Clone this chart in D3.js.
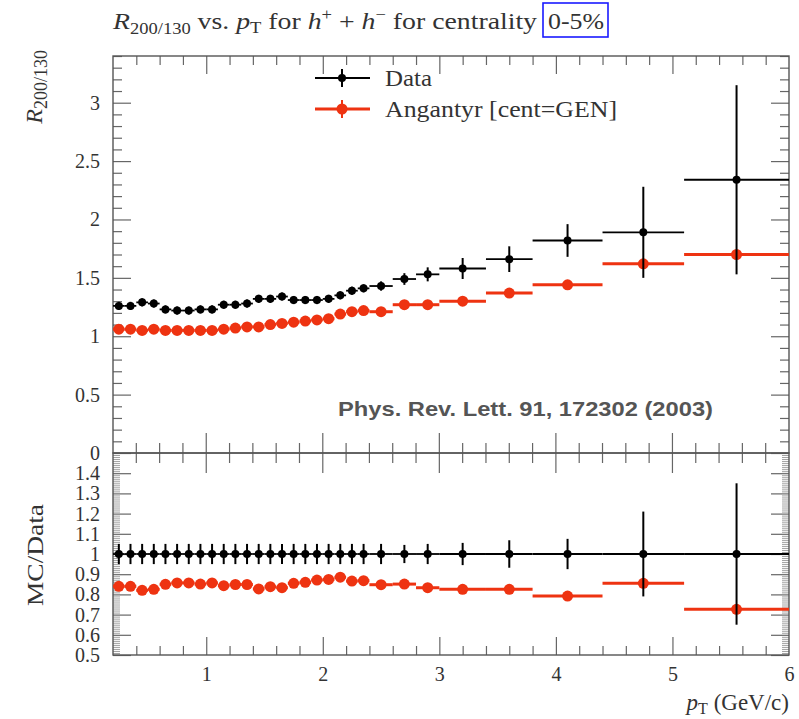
<!DOCTYPE html>
<html lang="en">
<head>
<meta charset="UTF-8">
<title>R200/130 vs pT</title>
<script src="https://cdn.jsdelivr.net/npm/d3@7"></script>
<style>
  body { margin: 0; background: #fff; }
  svg text { font-family: "Liberation Serif", "DejaVu Serif", serif; fill: #333; }
</style>
</head>
<body>
<div id="output"></div>
<script>

// bin edges in pT (GeV/c)
var binEdges = [0.2, 0.3, 0.4, 0.5, 0.6, 0.7, 0.8, 0.9, 1.0, 1.1, 1.2, 1.3, 1.4, 1.5, 1.6, 1.7,
                1.8, 1.9, 2.0, 2.1, 2.2, 2.3, 2.4, 2.6, 2.8, 3.0, 3.4, 3.8, 4.4, 5.1, 6.0];

// STAR data
var dataVal = [1.26, 1.26, 1.29, 1.28, 1.23, 1.22, 1.22, 1.23, 1.23, 1.27, 1.27, 1.28, 1.32, 1.32, 1.34,
               1.31, 1.31, 1.31, 1.32, 1.35, 1.39, 1.41, 1.43, 1.49, 1.53, 1.58, 1.66, 1.82, 1.89, 2.34];
var dataErr = [0.035, 0.035, 0.035, 0.035, 0.035, 0.035, 0.035, 0.035, 0.035, 0.035, 0.035, 0.035, 0.035, 0.035, 0.035,
               0.035, 0.035, 0.035, 0.035, 0.035, 0.035, 0.035, 0.04, 0.05, 0.06, 0.09, 0.11, 0.14, 0.39, 0.81];

// Angantyr prediction
var mcVal = [1.06, 1.06, 1.05, 1.06, 1.05, 1.05, 1.05, 1.05, 1.05, 1.06, 1.07, 1.08, 1.08, 1.10, 1.11,
             1.12, 1.13, 1.14, 1.15, 1.19, 1.21, 1.22, 1.21, 1.27, 1.27, 1.30, 1.37, 1.44, 1.62, 1.70];

// ratio panel
var ratioVal = [0.84, 0.84, 0.82, 0.825, 0.85, 0.857, 0.857, 0.851, 0.857, 0.843, 0.849, 0.849, 0.827, 0.838, 0.833,
                0.855, 0.86, 0.871, 0.874, 0.885, 0.866, 0.868, 0.848, 0.851, 0.833, 0.825, 0.825, 0.792, 0.855, 0.726];
var ratioErr = [0.05, 0.05, 0.05, 0.05, 0.05, 0.05, 0.05, 0.05, 0.05, 0.05, 0.05, 0.05, 0.05, 0.05, 0.05,
                0.05, 0.05, 0.05, 0.05, 0.05, 0.05, 0.05, 0.05, 0.045, 0.05, 0.055, 0.068, 0.075, 0.21, 0.35];

var yTopTicks = [0, 0.5, 1, 1.5, 2, 2.5, 3];
var yBotTicks = [0.5, 0.6, 0.7, 0.8, 0.9, 1, 1.1, 1.2, 1.3, 1.4];
var xTicks = [1, 2, 3, 4, 5, 6];

var RED = "#ee3311";

var w = 799, h = 719;
var padL = 113, padR = 789, padT = 56, padM = 453, padB = 655;

var bins = dataVal.map(function(v, i) {
    return {
        lo: binEdges[i], hi: binEdges[i + 1], x: (binEdges[i] + binEdges[i + 1]) / 2,
        data: v, dataErr: dataErr[i], mc: mcVal[i], ratio: ratioVal[i], ratioErr: ratioErr[i]
    };
});

var svg = d3.select("#output").append("svg")
        .attr("width", w).attr("height", h);

var x = d3.scaleLinear().domain([0.2, 6]).range([padL, padR]);
var yTop = d3.scaleLinear().domain([0, 3.4]).range([padM, padT]);
var yBot = d3.scaleLinear().domain([0.5, 1.5]).range([padB, padM]);

function minorRange(a, b, step, majors) {
    var out = [], n = Math.round((b - a) / step), i, v;
    for (i = 0; i <= n; i++) {
        v = +(a + i * step).toFixed(4);
        if (majors.indexOf(v) < 0) out.push(v);
    }
    return out;
}

function styleAxis(g) {
    g.select(".domain").remove();
    g.selectAll("line").attr("stroke", "#666").attr("stroke-width", 1.2);
    g.selectAll("text").attr("font-size", 20).attr("fill", "#333")
        .style("font-family", '"Liberation Serif", serif');
}

var fmt = d3.format("~g");

// ---- y axes upper panel
svg.append("g").attr("transform", "translate(" + padL + ",0)")
    .call(d3.axisLeft(yTop).tickValues(yTopTicks).tickSize(-18).tickPadding(13).tickFormat(fmt))
    .call(styleAxis);
svg.append("g").attr("transform", "translate(" + padL + ",0)")
    .call(d3.axisLeft(yTop).tickValues(minorRange(0, 3.4, 0.1, yTopTicks)).tickSize(-9).tickFormat(""))
    .call(styleAxis);
svg.append("g").attr("transform", "translate(" + padR + ",0)")
    .call(d3.axisRight(yTop).tickValues(yTopTicks).tickSize(-18).tickFormat(""))
    .call(styleAxis);
svg.append("g").attr("transform", "translate(" + padR + ",0)")
    .call(d3.axisRight(yTop).tickValues(minorRange(0, 3.4, 0.1, yTopTicks)).tickSize(-9).tickFormat(""))
    .call(styleAxis);

// ---- y axes lower panel
var botMinor = minorRange(0.5, 1.5, 0.01, yBotTicks.concat([1.5]));
svg.append("g").attr("transform", "translate(" + padL + ",0)")
    .call(d3.axisLeft(yBot).tickValues(yBotTicks).tickSize(-18).tickPadding(13).tickFormat(fmt))
    .call(styleAxis);
svg.append("g").attr("transform", "translate(" + padL + ",0)")
    .call(d3.axisLeft(yBot).tickValues(botMinor).tickSize(-7).tickFormat(""))
    .call(styleAxis)
    .selectAll("line").attr("stroke-width", 0.8).attr("stroke", "#888");
svg.append("g").attr("transform", "translate(" + padR + ",0)")
    .call(d3.axisRight(yBot).tickValues(yBotTicks).tickSize(-18).tickFormat(""))
    .call(styleAxis);
svg.append("g").attr("transform", "translate(" + padR + ",0)")
    .call(d3.axisRight(yBot).tickValues(botMinor).tickSize(-7).tickFormat(""))
    .call(styleAxis)
    .selectAll("line").attr("stroke-width", 0.8).attr("stroke", "#888");

// ---- x axes
var xMajorIn = xTicks.filter(function(v) { return v < 6; });
var xMinor = minorRange(0.2, 6, 0.2, xTicks).filter(function(v) { return v > 0.2 && v < 6; });

svg.append("g").attr("transform", "translate(0," + padT + ")")
    .call(d3.axisBottom(x).tickValues(xMajorIn).tickSize(18).tickFormat(""))
    .call(styleAxis);
svg.append("g").attr("transform", "translate(0," + padT + ")")
    .call(d3.axisBottom(x).tickValues(xMinor).tickSize(9).tickFormat(""))
    .call(styleAxis);

// ticks crossing the shared border
var midTicks = svg.append("g");
midTicks.selectAll("line.major").data(xMajorIn).enter().append("line")
    .attr("x1", function(d) { return x(d); }).attr("x2", function(d) { return x(d); })
    .attr("y1", padM - 20).attr("y2", padM + 20)
    .attr("stroke", "#666").attr("stroke-width", 1.2);
midTicks.selectAll("line.minor").data(xMinor).enter().append("line")
    .attr("x1", function(d) { return x(d); }).attr("x2", function(d) { return x(d); })
    .attr("y1", padM - 10).attr("y2", padM + 10)
    .attr("stroke", "#666").attr("stroke-width", 1.2);

svg.append("g").attr("transform", "translate(0," + padB + ")")
    .call(d3.axisTop(x).tickValues(xMajorIn).tickSize(18).tickFormat(""))
    .call(styleAxis);
svg.append("g").attr("transform", "translate(0," + padB + ")")
    .call(d3.axisTop(x).tickValues(xMinor).tickSize(9).tickFormat(""))
    .call(styleAxis);
svg.append("g").attr("transform", "translate(0," + padB + ")")
    .call(d3.axisBottom(x).tickValues(xTicks).tickSize(0).tickPadding(12).tickFormat(fmt))
    .call(styleAxis);

// frames
svg.append("rect").attr("x", padL).attr("y", padT).attr("width", padR - padL).attr("height", padM - padT)
    .attr("fill", "none").attr("stroke", "#555").attr("stroke-width", 1.4);
svg.append("rect").attr("x", padL).attr("y", padM).attr("width", padR - padL).attr("height", padB - padM)
    .attr("fill", "none").attr("stroke", "#555").attr("stroke-width", 1.4);

// ---- upper panel marks
var upper = svg.append("g");

// MC
upper.selectAll("line.mcx").data(bins).enter().append("line")
    .attr("x1", function(d) { return x(d.lo); }).attr("x2", function(d) { return x(d.hi); })
    .attr("y1", function(d) { return yTop(d.mc); }).attr("y2", function(d) { return yTop(d.mc); })
    .attr("stroke", RED).attr("stroke-width", 3);
upper.selectAll("circle.mc").data(bins).enter().append("circle")
    .attr("cx", function(d) { return x(d.x); }).attr("cy", function(d) { return yTop(d.mc); })
    .attr("r", 5.5).attr("fill", RED);

// data
upper.selectAll("line.dx").data(bins).enter().append("line")
    .attr("x1", function(d) { return x(d.lo); }).attr("x2", function(d) { return x(d.hi); })
    .attr("y1", function(d) { return yTop(d.data); }).attr("y2", function(d) { return yTop(d.data); })
    .attr("stroke", "#000").attr("stroke-width", 1.8);
upper.selectAll("line.dy").data(bins).enter().append("line")
    .attr("x1", function(d) { return x(d.x); }).attr("x2", function(d) { return x(d.x); })
    .attr("y1", function(d) { return yTop(d.data - d.dataErr); })
    .attr("y2", function(d) { return yTop(d.data + d.dataErr); })
    .attr("stroke", "#000").attr("stroke-width", 2);
upper.selectAll("circle.d").data(bins).enter().append("circle")
    .attr("cx", function(d) { return x(d.x); }).attr("cy", function(d) { return yTop(d.data); })
    .attr("r", 4).attr("fill", "#000");

// ---- lower panel marks
var lower = svg.append("g");
lower.selectAll("line.rx").data(bins).enter().append("line")
    .attr("x1", function(d) { return x(d.lo); }).attr("x2", function(d) { return x(d.hi); })
    .attr("y1", function(d) { return yBot(d.ratio); }).attr("y2", function(d) { return yBot(d.ratio); })
    .attr("stroke", RED).attr("stroke-width", 3);
lower.selectAll("circle.r").data(bins).enter().append("circle")
    .attr("cx", function(d) { return x(d.x); }).attr("cy", function(d) { return yBot(d.ratio); })
    .attr("r", 5.5).attr("fill", RED);

lower.selectAll("line.ux").data(bins).enter().append("line")
    .attr("x1", function(d) { return x(d.lo); }).attr("x2", function(d) { return x(d.hi); })
    .attr("y1", yBot(1)).attr("y2", yBot(1))
    .attr("stroke", "#000").attr("stroke-width", 1.8);
lower.selectAll("line.uy").data(bins).enter().append("line")
    .attr("x1", function(d) { return x(d.x); }).attr("x2", function(d) { return x(d.x); })
    .attr("y1", function(d) { return yBot(1 - d.ratioErr); })
    .attr("y2", function(d) { return yBot(1 + d.ratioErr); })
    .attr("stroke", "#000").attr("stroke-width", 2);
lower.selectAll("circle.u").data(bins).enter().append("circle")
    .attr("cx", function(d) { return x(d.x); }).attr("cy", yBot(1))
    .attr("r", 4).attr("fill", "#000");

// ---- legend
var legend = svg.append("g");
var legItems = [{ label: "Data", color: "#000", y: 78, r: 4, sw: 1.8 },
                { label: "Angantyr [cent=GEN]", color: RED, y: 109, r: 5.5, sw: 3 }];
legItems.forEach(function(it) {
    legend.append("line").attr("x1", 315).attr("x2", 370).attr("y1", it.y).attr("y2", it.y)
        .attr("stroke", it.color).attr("stroke-width", it.sw);
    legend.append("line").attr("x1", 342).attr("x2", 342).attr("y1", it.y - 9).attr("y2", it.y + 9)
        .attr("stroke", it.color).attr("stroke-width", 2);
    legend.append("circle").attr("cx", 342).attr("cy", it.y).attr("r", it.r).attr("fill", it.color);
    legend.append("text").attr("x", 385).attr("y", it.y + 8).attr("font-size", 23)
        .attr("textLength", it.label === "Data" ? 47 : 232).attr("lengthAdjust", "spacingAndGlyphs")
        .text(it.label);
});

// reference
svg.append("text").attr("x", 338).attr("y", 416)
    .style("font-family", '"Liberation Sans", Arial, sans-serif')
    .attr("font-weight", "bold").attr("font-size", 21).style("fill", "#555")
    .attr("textLength", 375).attr("lengthAdjust", "spacingAndGlyphs")
    .text("Phys. Rev. Lett. 91, 172302 (2003)");

// ---- title
var title = svg.append("text").attr("x", 113).attr("y", 29).attr("font-size", 24)
    .attr("textLength", 424).attr("lengthAdjust", "spacingAndGlyphs");
title.append("tspan").attr("font-style", "italic").text("R");
title.append("tspan").attr("font-size", 16).attr("dy", 5).text("200/130");
title.append("tspan").attr("dy", -5).text(" vs. ");
title.append("tspan").attr("font-style", "italic").text("p");
title.append("tspan").attr("font-size", 16).attr("dy", 4).text("T");
title.append("tspan").attr("dy", -4).text(" for ");
title.append("tspan").attr("font-style", "italic").text("h");
title.append("tspan").attr("font-size", 16).attr("dy", -9).text("+");
title.append("tspan").attr("dy", 9).text(" + ");
title.append("tspan").attr("font-style", "italic").text("h");
title.append("tspan").attr("font-size", 16).attr("dy", -9).text("\u2212");
title.append("tspan").attr("dy", 9).text(" for centrality");
svg.append("text").attr("x", 548).attr("y", 29).attr("font-size", 24)
    .attr("textLength", 56).attr("lengthAdjust", "spacingAndGlyphs").text("0-5%");
svg.append("rect").attr("x", 543).attr("y", 3).attr("width", 65).attr("height", 34)
    .attr("fill", "none").attr("stroke", "#1a1aff").attr("stroke-width", 1.6);

// ---- axis titles
var yl = svg.append("text").attr("transform", "translate(42,50) rotate(-90)")
    .attr("text-anchor", "end").attr("font-size", 24);
yl.append("tspan").attr("font-style", "italic").text("R");
yl.append("tspan").attr("font-size", 18).attr("dy", 5).text("200/130");

svg.append("text").attr("transform", "translate(43,555) rotate(-90)")
    .attr("text-anchor", "middle").attr("font-size", 23)
    .attr("textLength", 102).attr("lengthAdjust", "spacingAndGlyphs").text("MC/Data");

var xl = svg.append("text").attr("x", padR).attr("y", 710).attr("text-anchor", "end").attr("font-size", 23);
xl.append("tspan").attr("font-style", "italic").text("p");
xl.append("tspan").attr("font-size", 16).attr("dy", 4).text("T");
xl.append("tspan").attr("dy", -4).text(" (GeV/c)");

</script>
</body>
</html>
